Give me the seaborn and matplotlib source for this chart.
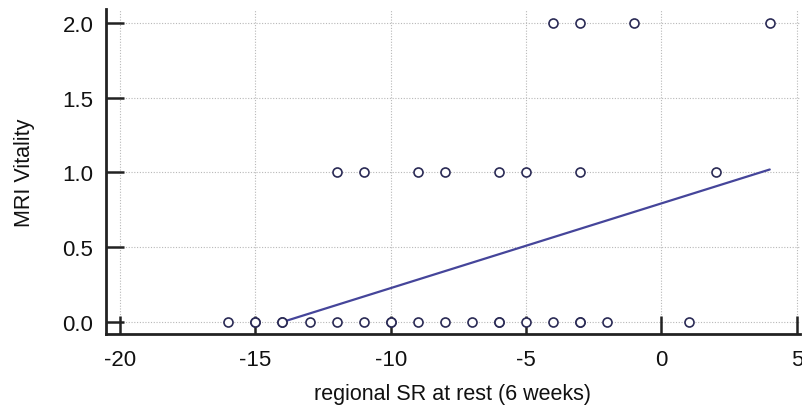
import numpy as np
import pandas as pd
import matplotlib
matplotlib.use("Agg")
import matplotlib.pyplot as plt
import seaborn as sns

# --- data ---
sr_vit0 = [-16, -15, -15, -14, -14, -13, -12, -11, -10, -10, -9, -8, -7,
           -6, -6, -5, -4, -3, -3, -2, 1]
sr_vit1 = [-12, -11, -9, -8, -6, -5, -3, 2]
sr_vit2 = [-4, -3, -1, 4]

# regression line end points (as drawn)
fit_x = [-14, 4]
fit_y = [0.0, 1.02]

xticks = [-20, -15, -10, -5, 0, 5]
yticks = [0.0, 0.5, 1.0, 1.5, 2.0]

df = pd.DataFrame({
    "sr": sr_vit0 + sr_vit1 + sr_vit2,
    "vitality": [0.0] * len(sr_vit0) + [1.0] * len(sr_vit1) + [2.0] * len(sr_vit2),
})
fit = pd.DataFrame({"sr": fit_x, "vitality": fit_y})

sns.set_style("white")
plt.rcParams["font.family"] = ["Liberation Sans", "DejaVu Sans"]

fig = plt.figure(figsize=(8.03, 4.14), dpi=100)
ax = fig.add_axes([0.132, 0.191, 0.864, 0.785])

# grid (dotted)
for xv in xticks:
    ax.axvline(xv, color="#b8b8b8", lw=0.8, ls=(0, (1, 1.5)), zorder=0)
for yv in yticks:
    ax.axhline(yv, color="#b8b8b8", lw=0.8, ls=(0, (1, 1.5)), zorder=0)

sns.lineplot(data=fit, x="sr", y="vitality", ax=ax, color="#45459a", lw=1.6, zorder=2)
sns.scatterplot(data=df, x="sr", y="vitality", ax=ax, marker="o", s=42,
                facecolor="white", edgecolor="#2a2a55", linewidth=1.2, zorder=3)

ax.set_xlim(-20.52, 5.11)
ax.set_ylim(-0.08, 2.094)
ax.set_xticks(xticks)
ax.set_yticks(yticks)
ax.set_xticklabels([str(v) for v in xticks])
ax.set_yticklabels([f"{v:.1f}" for v in yticks])

for side in ["top", "right"]:
    ax.spines[side].set_visible(False)
for side in ["left", "bottom"]:
    ax.spines[side].set_linewidth(2)
    ax.spines[side].set_color("#222222")

ax.tick_params(axis="both", which="major", bottom=True, left=True, direction="in",
               length=13, width=1.8, color="#222222",
               labelsize=16, labelcolor="#111111")
ax.tick_params(axis="x", pad=11)
ax.tick_params(axis="y", pad=9)

ax.set_xlabel("regional SR at rest (6 weeks)", fontsize=15.5, color="#111111", labelpad=9)
ax.set_ylabel("MRI Vitality", fontsize=15.5, color="#111111", labelpad=20)

fig.savefig("out.png", dpi=100)
